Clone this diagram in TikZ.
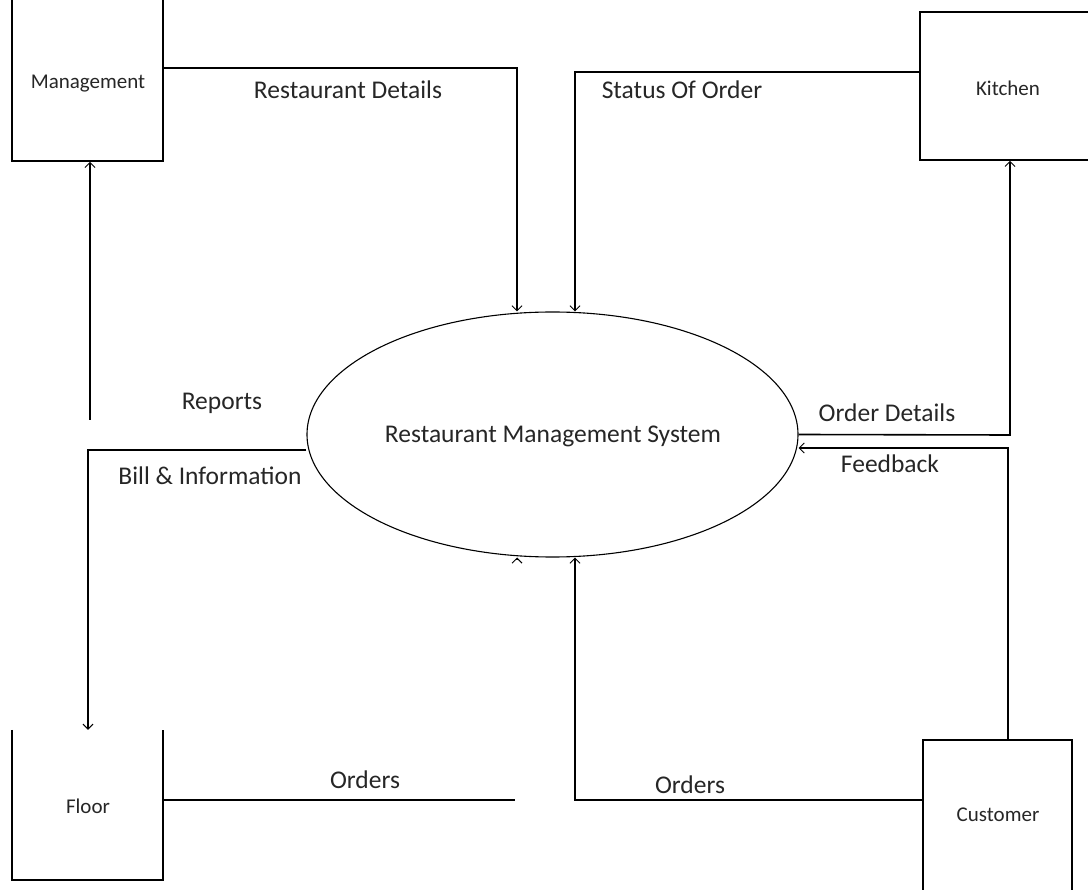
\documentclass[tikz,border=0pt]{standalone}
\usepackage{fontspec}
\setmainfont{Carlito}
\usetikzlibrary{arrows.meta,shapes.geometric}
\begin{document}
\begin{tikzpicture}[x=1pt,y=-1pt,
  flow/.style={line width=1.6pt, -{Straight Barb[length=5pt,width=10pt,line width=1pt]}},
  link/.style={line width=1.6pt},
  entity/.style={draw, line width=1.6pt, inner sep=0pt},
  lbl/.style={font=\fontsize{25.5}{28}\selectfont, text=black!85},
  elbl/.style={font=\fontsize{21}{24}\selectfont, text=black!85}]
\useasboundingbox (0,0) rectangle (1088,890);
\clip (0,0) rectangle (1088,890);

% external entities
\node[entity, minimum width=151pt, minimum height=181pt] (mg) at (87.5,70.5) {};
\node[elbl] (mgt) at (88,84) {Management};
\node[entity, minimum width=190pt, minimum height=148pt] (kc) at (1015,86) {};
\node[elbl] (kct) at (1008,88) {Kitchen};
\node[minimum width=151pt, minimum height=150pt, inner sep=0pt] (fl) at (87.5,805) {};
\draw[link] (fl.north west) -- (fl.south west) -- (fl.south east) -- (fl.north east);
\node[elbl] (flt) at (88,806) {Floor};
\node[entity, minimum width=149pt, minimum height=180pt] (cu) at (997.5,830) {};
\node[elbl] (cut) at (998,815) {Customer};

% central process
\node[ellipse, draw, line width=1.1pt, minimum width=491pt, minimum height=245pt, inner sep=0pt] (sys) at (552.5,434.5) {};
\node[lbl] (syst) at (553,436) {Restaurant Management System};

% bend points and free ends
\coordinate (rd) at (517,68);
\coordinate (so) at (575,72);
\coordinate (od) at (1010,435);
\coordinate (fb) at (1008,448);
\coordinate (oc) at (575,800);
\coordinate (of) at (515,800);
\coordinate (rp) at (90,420);
\coordinate (bi) at (88,450);
\coordinate (ot) at (517,559);

% data flows
\draw[flow] (mg.east |- rd) -- (rd) -- (rd |- sys.north);
\draw[flow] (kc.west |- so) -- (so) -- (so |- sys.north);
\draw[flow] (sys.east) -- (od) -- (od |- kc.south);
\draw[flow] (fb |- cu.north) -- (fb) -- (fb -| sys.east);
\draw[flow] (cu.west |- oc) -- (oc) -- (oc |- sys.south);
\draw[link] (fl.east |- of) -- (of);
\draw[flow] (ot) -- ++(0,-1.5);
\draw[flow] (rp) -- (rp |- mg.south);
\draw[flow] (bi -| sys.west) -- (bi) -- (bi |- fl.north);

% flow labels
\node[lbl] (l1) at (348,90) {Restaurant Details};
\node[lbl] (l2) at (682,90) {Status Of Order};
\node[lbl] (l3) at (887,413) {Order Details};
\node[lbl] (l4) at (890,464) {Feedback};
\node[lbl] (l5) at (690,785) {Orders};
\node[lbl] (l6) at (365,780) {Orders};
\node[lbl] (l7) at (222,403) {Reports};
\node[lbl] (l8) at (210,476) {Bill \& Information};
\end{tikzpicture}
\end{document}
